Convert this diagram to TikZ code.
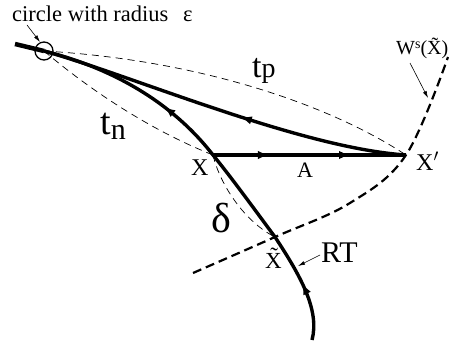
\documentclass[tikz,border=0pt]{standalone}
\usepackage{fontspec}
\setmainfont{Liberation Serif}
\usetikzlibrary{arrows.meta,decorations.markings}

\newcommand{\fsz}[1]{\fontsize{#1}{#1}\selectfont}

\begin{document}
\begin{tikzpicture}[x=1pt, y=-1pt, >=Stealth,
  heavy/.style={line width=3.4pt},
  thindash/.style={line width=0.7pt, dash pattern=on 7pt off 5pt},
  wsdash/.style={line width=2.2pt, dash pattern=on 9pt off 5pt},
  leader/.style={line width=0.6pt, -{Latex[length=7pt,width=4pt]}},
  flowtip/.tip={Latex[length=11pt,width=8.5pt]}]
  \useasboundingbox (0,0) rectangle (449,347);

  %% Points
  \coordinate (c) at (44,51);
  \coordinate (stub) at (15,44);
  \coordinate (x) at (213,155);
  \coordinate (xp) at (406,155);
  \coordinate (xt) at (275,237);
  \coordinate (rtbot) at (312,340);
  \coordinate (ws0) at (193,273);
  \coordinate (ws1) at (350,203);
  \coordinate (ws2) at (448,57);

  %% Thin dashed guides
  \draw[thindash] (c) .. controls (200,60) and (330,105) .. (xp);
  \draw[thindash] (c) .. controls (90,90) and (150,130) .. (x);
  \draw[thindash] (x) .. controls (220,185) and (245,222) .. (xt);

  %% Stable manifold W^s
  \draw[wsdash] plot[smooth, tension=0.6] coordinates {(ws0) (xt) (ws1) (xp) (ws2)};

  %% Trajectory RT
  \draw[heavy, postaction={decorate}, decoration={markings,
      mark=at position 0.14 with {\arrow{flowtip}},
      mark=at position 0.68 with {\arrow{flowtip}}}]
    (rtbot) .. controls (320,310) and (300,275) .. (xt)
    .. controls (255,210) and (231,177) .. (x)
    .. controls (168,97) and (104,66) .. (c);

  %% Trajectory t_p
  \draw[heavy, postaction={decorate}, decoration={markings,
      mark=at position 0.45 with {\arrow{flowtip}}}]
    (xp) .. controls (300,148) and (130,75) .. (c);
  \draw[line width=4.5pt] (c) -- (stub);

  %% Action A
  \draw[heavy, postaction={decorate}, decoration={markings,
      mark=at position 0.29 with {\arrow{flowtip}},
      mark=at position 0.71 with {\arrow{flowtip}}}]
    (x) -- (xp);

  %% Circle of radius epsilon
  \draw[line width=1.3pt] (c) circle (9);

  %% Labels
  \node[anchor=base west, inner sep=0, font=\fsz{22.5}] (lcirc) at (12,22) {circle with radius};
  \node[anchor=base west, inner sep=0, font=\fsz{22.5}] (leps) at (183,22) {ε};
  \node[anchor=base west, inner sep=0] (ltp) at (252,78) {\fsz{34}t\fsz{28}p};
  \node[anchor=base west, inner sep=0] (ltn) at (100,135) {\fsz{38}t\raisebox{-5pt}{\fsz{30}n}};
  \node[anchor=base west, inner sep=0, font=\fsz{24}] (lx) at (191,176) {X};
  \node[anchor=base west, inner sep=0, font=\fsz{24}] (lxp) at (416,171) {X$'$};
  \node[anchor=base west, inner sep=0, font=\fsz{22}] (la) at (297,178) {A};
  \node[anchor=base west, inner sep=0, font=\fsz{42}] (ldelta) at (211,232) {δ};
  \node[anchor=base west, inner sep=0, font=\fsz{23}] (lxt) at (265,268) {\~{X}};
  \node[anchor=base west, inner sep=0, font=\fsz{30}] (lrt) at (321,262) {RT};
  \node[anchor=base west, inner sep=0] (lws) at (396,55)
    {\fsz{20}W\raisebox{6pt}{\fsz{14}s}(\~{X})};

  %% Leader arrows
  \coordinate (cfrom) at (27,25);
  \coordinate (ctip) at (40,42);
  \coordinate (wsfrom) at (410,63);
  \coordinate (wstip) at (428,98);
  \coordinate (rtfrom) at (320,255);
  \coordinate (rttip) at (298,266);
  \draw[leader] (cfrom) -- (ctip);
  \draw[leader] (wsfrom) -- (wstip);
  \draw[leader] (rtfrom) -- (rttip);
\end{tikzpicture}
\end{document}
